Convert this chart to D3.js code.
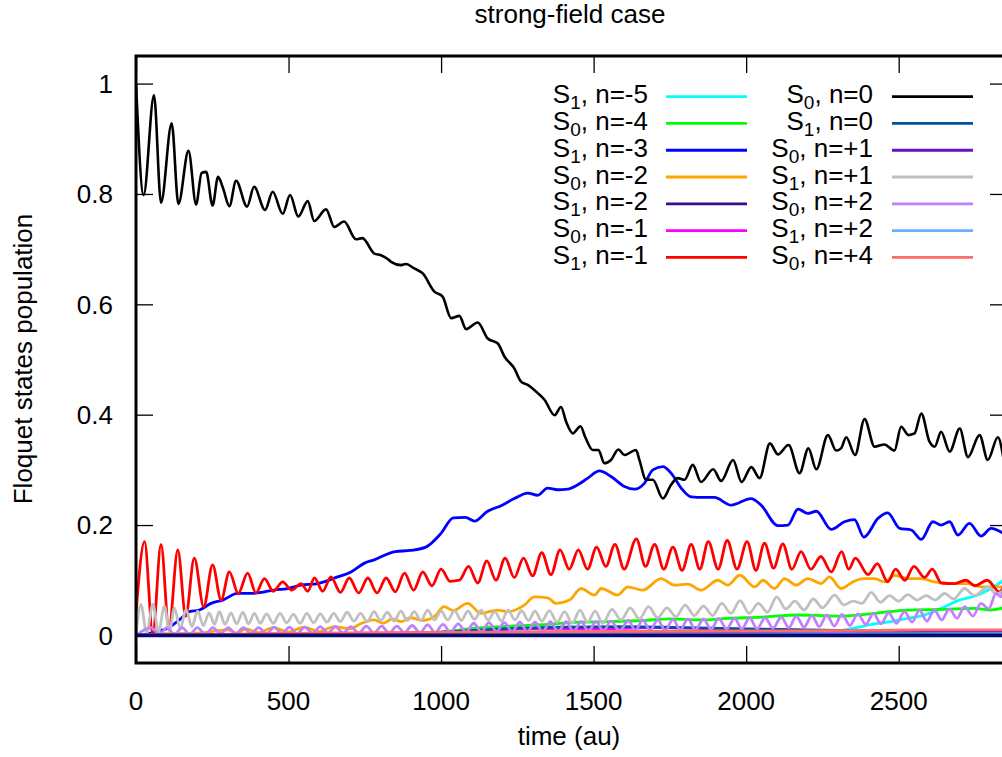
<!DOCTYPE html>
<html>
<head>
<meta charset="utf-8">
<script src="https://cdn.jsdelivr.net/npm/d3@7"></script>
<style>
  html, body { margin: 0; padding: 0; background: #ffffff; }
  svg { display: block; font-family: "Liberation Sans", Arial, Helvetica, sans-serif; }
</style>
</head>
<body>
<svg id="chart" width="1002" height="757"></svg>
<script>
// ---- axis ticks ----
const xTicks = [0, 500, 1000, 1500, 2000, 2500];
const yTicks = [0, 0.2, 0.4, 0.6, 0.8, 1];
const yTickLabels = ["0", "0.2", "0.4", "0.6", "0.8", "1"];

// ---- Floquet state populations, [time (au), population] ----
const s1_nm5 = [[0,0],[600,0.001],[1200,0.002],[1600,0.003],[2000,0.004],[2200,0.006],[2311,0.009],[2421,0.021],[2475,0.025],[2530,0.031],[2585,0.037],[2640,0.049],[2694,0.063],[2748,0.071],[2792,0.082],[2845,0.1]];

const s0_nm4 = [[0,0],[600,0.001],[760,0.003],[978,0.005],[1087,0.012],[1200,0.016],[1350,0.02],[1450,0.024],[1550,0.025],[1661,0.027],[1750,0.03],[1850,0.028],[1940,0.031],[2050,0.033],[2170,0.037],[2250,0.036],[2311,0.035],[2421,0.04],[2530,0.046],[2640,0.047],[2748,0.049],[2800,0.046],[2845,0.05]];

const s1_nm3 = [[0,0],[30,0.002],[66,0.007],[104,0.013],[148,0.031],[175,0.043],[208,0.046],[246,0.058],[284,0.064],[333,0.076],[377,0.076],[421,0.079],[453,0.082],[497,0.085],[541,0.091],[596,0.094],[661,0.106],[705,0.115],[749,0.131],[781,0.137],[850,0.152],[900,0.154],[950,0.16],[1000,0.185],[1040,0.213],[1080,0.214],[1110,0.207],[1150,0.224],[1200,0.236],[1240,0.248],[1284,0.258],[1317,0.254],[1349,0.267],[1382,0.264],[1415,0.265],[1448,0.273],[1481,0.285],[1519,0.298],[1557,0.288],[1601,0.27],[1634,0.265],[1667,0.276],[1694,0.3],[1727,0.306],[1754,0.294],[1787,0.267],[1820,0.251],[1863,0.25],[1896,0.25],[1951,0.236],[2016,0.248],[2049,0.236],[2104,0.199],[2137,0.2],[2170,0.229],[2202,0.221],[2230,0.225],[2279,0.192],[2322,0.206],[2355,0.21],[2386,0.178],[2432,0.212],[2464,0.222],[2503,0.194],[2541,0.191],[2574,0.174],[2612,0.206],[2639,0.2],[2667,0.206],[2694,0.182],[2732,0.203],[2770,0.18],[2803,0.194],[2845,0.184]];

const s0_nm2 = [[0,0],[100,0.003],[200,0.004],[300,0.01],[330,0.004],[360,0.012],[400,0.005],[450,0.014],[500,0.006],[550,0.015],[600,0.007],[650,0.016],[700,0.012],[740,0.022],[780,0.028],[810,0.022],[840,0.03],[870,0.025],[900,0.032],[940,0.027],[978,0.034],[1010,0.052],[1040,0.045],[1087,0.058],[1131,0.04],[1185,0.046],[1218,0.043],[1273,0.055],[1306,0.07],[1350,0.068],[1377,0.058],[1421,0.064],[1459,0.085],[1503,0.073],[1525,0.085],[1579,0.073],[1612,0.088],[1661,0.082],[1721,0.103],[1765,0.091],[1809,0.093],[1852,0.082],[1907,0.1],[1940,0.091],[1979,0.109],[2028,0.088],[2055,0.1],[2093,0.085],[2126,0.103],[2164,0.091],[2202,0.103],[2246,0.094],[2273,0.106],[2311,0.085],[2350,0.097],[2383,0.103],[2421,0.103],[2454,0.097],[2486,0.109],[2530,0.103],[2574,0.103],[2617,0.097],[2672,0.094],[2727,0.094],[2770,0.088],[2845,0.088]];

const s1_nm2 = [[0,0],[1400,0],[2845,0]];

const s0_nm1 = [[0,0],[500,0.002],[900,0.004],[1100,0.008],[1300,0.012],[1500,0.012],[1700,0.014],[1900,0.012],[2100,0.01],[2300,0.008],[2500,0.006],[2700,0.005],[2845,0.004]];

const s1_nm1 = [[0,0.04],[28,0.17],[55,0.003],[82,0.165],[108,0.012],[137,0.155],[163,0.035],[191,0.14],[222,0.052],[251,0.128],[279,0.064],[306,0.115],[335,0.076],[366,0.113],[393,0.077],[421,0.103],[450,0.08],[481,0.097],[510,0.082],[541,0.094],[563,0.08],[585,0.104],[612,0.08],[639,0.106],[670,0.078],[699,0.104],[730,0.077],[760,0.104],[790,0.077],[820,0.104],[850,0.079],[880,0.113],[910,0.082],[940,0.115],[970,0.09],[1000,0.12],[1030,0.098],[1060,0.1],[1090,0.125],[1120,0.095],[1150,0.135],[1180,0.1],[1210,0.14],[1240,0.105],[1270,0.14],[1300,0.108],[1330,0.15],[1360,0.11],[1390,0.155],[1420,0.12],[1450,0.155],[1480,0.12],[1510,0.16],[1540,0.125],[1570,0.165],[1600,0.12],[1640,0.175],[1670,0.125],[1700,0.165],[1730,0.12],[1760,0.16],[1790,0.118],[1820,0.165],[1848,0.12],[1876,0.17],[1908,0.12],[1938,0.172],[1970,0.12],[2003,0.17],[2032,0.118],[2060,0.167],[2090,0.122],[2120,0.166],[2150,0.12],[2180,0.152],[2212,0.12],[2245,0.143],[2279,0.115],[2313,0.152],[2336,0.12],[2358,0.14],[2400,0.11],[2430,0.13],[2464,0.097],[2490,0.12],[2520,0.1],[2550,0.125],[2585,0.105],[2610,0.12],[2640,0.095],[2683,0.094],[2720,0.1],[2750,0.09],[2790,0.1],[2830,0.079],[2845,0.09]];

const s0_n0 = [[0,1],[25,0.798],[59,0.979],[82,0.784],[117,0.928],[139,0.782],[172,0.878],[197,0.781],[215,0.838],[230,0.84],[251,0.779],[269,0.831],[285,0.811],[306,0.778],[328,0.824],[364,0.777],[387,0.813],[423,0.771],[448,0.804],[481,0.764],[505,0.798],[532,0.759],[563,0.787],[584,0.751],[623,0.772],[650,0.74],[682,0.75],[721,0.718],[742,0.72],[781,0.692],[803,0.689],[825,0.682],[836,0.677],[869,0.671],[885,0.673],[912,0.665],[940,0.656],[978,0.623],[1005,0.614],[1033,0.575],[1060,0.579],[1082,0.555],[1120,0.567],[1153,0.538],[1186,0.529],[1208,0.505],[1240,0.484],[1262,0.46],[1284,0.454],[1317,0.439],[1339,0.427],[1372,0.399],[1393,0.414],[1410,0.387],[1432,0.366],[1457,0.379],[1472,0.36],[1497,0.336],[1516,0.336],[1535,0.312],[1557,0.318],[1581,0.337],[1601,0.327],[1639,0.336],[1650,0.318],[1672,0.282],[1694,0.282],[1727,0.248],[1754,0.273],[1776,0.285],[1798,0.282],[1825,0.309],[1852,0.278],[1892,0.301],[1918,0.28],[1957,0.318],[1985,0.278],[2017,0.305],[2044,0.285],[2078,0.348],[2104,0.328],[2139,0.345],[2175,0.294],[2204,0.339],[2230,0.301],[2268,0.363],[2295,0.335],[2311,0.339],[2328,0.359],[2357,0.327],[2388,0.392],[2421,0.342],[2453,0.346],[2486,0.335],[2508,0.378],[2532,0.363],[2552,0.366],[2574,0.402],[2601,0.351],[2618,0.342],[2639,0.369],[2667,0.333],[2700,0.375],[2727,0.323],[2765,0.363],[2792,0.318],[2825,0.359],[2845,0.315]];

const s1_n0 = [[0,0],[800,0.002],[1000,0.006],[1200,0.012],[1400,0.015],[1600,0.016],[1800,0.014],[2000,0.012],[2200,0.01],[2400,0.008],[2600,0.006],[2845,0.004]];

const s0_np1 = [[0,0],[500,0.002],[1000,0.004],[1500,0.006],[2000,0.007],[2300,0.008],[2500,0.009],[2700,0.008],[2845,0.008]];

const s1_np1 = [[0,0],[16,0.056],[35,0.004],[55,0.056],[74,0.006],[93,0.053],[110,0.008],[126,0.05],[145,0.012],[164,0.047],[183,0.016],[202,0.044],[221,0.018],[240,0.041],[257,0.02],[273,0.043],[292,0.02],[311,0.041],[330,0.021],[350,0.042],[369,0.021],[388,0.04],[407,0.022],[428,0.039],[450,0.022],[472,0.04],[494,0.023],[516,0.038],[538,0.022],[560,0.04],[582,0.023],[604,0.039],[626,0.024],[648,0.04],[670,0.025],[692,0.042],[714,0.026],[736,0.04],[758,0.025],[780,0.043],[802,0.027],[824,0.042],[846,0.026],[868,0.044],[890,0.027],[912,0.043],[934,0.027],[956,0.046],[978,0.028],[1000,0.044],[1022,0.028],[1044,0.045],[1066,0.027],[1088,0.044],[1110,0.029],[1132,0.046],[1154,0.028],[1176,0.043],[1198,0.026],[1220,0.046],[1242,0.028],[1264,0.045],[1286,0.027],[1308,0.044],[1330,0.026],[1355,0.045],[1380,0.024],[1405,0.043],[1430,0.022],[1455,0.046],[1480,0.024],[1505,0.044],[1530,0.022],[1560,0.047],[1590,0.028],[1620,0.05],[1650,0.03],[1680,0.052],[1710,0.032],[1740,0.05],[1770,0.034],[1800,0.055],[1830,0.036],[1860,0.053],[1890,0.036],[1920,0.058],[1950,0.04],[1980,0.063],[2010,0.04],[2040,0.058],[2070,0.042],[2100,0.07],[2130,0.048],[2160,0.062],[2190,0.046],[2220,0.066],[2250,0.05],[2290,0.073],[2320,0.055],[2350,0.062],[2380,0.058],[2410,0.078],[2440,0.06],[2470,0.072],[2500,0.062],[2530,0.074],[2560,0.064],[2590,0.072],[2620,0.064],[2650,0.076],[2680,0.066],[2716,0.085],[2748,0.072],[2792,0.088],[2820,0.075],[2845,0.082]];

const s0_np2 = [[0,0],[50,0.014],[76,0.002],[101,0.014],[126,0.002],[151,0.014],[176,0.002],[201,0.014],[227,0.002],[252,0.014],[277,0.003],[302,0.014],[327,0.003],[352,0.014],[377,0.003],[402,0.014],[428,0.003],[453,0.015],[478,0.003],[503,0.015],[528,0.003],[553,0.015],[579,0.004],[604,0.016],[629,0.004],[654,0.016],[679,0.004],[704,0.016],[730,0.004],[755,0.017],[780,0.004],[805,0.017],[830,0.004],[855,0.017],[880,0.005],[905,0.018],[931,0.005],[956,0.019],[981,0.005],[1006,0.02],[1031,0.006],[1056,0.021],[1082,0.006],[1107,0.022],[1132,0.006],[1157,0.023],[1182,0.007],[1207,0.023],[1233,0.007],[1258,0.024],[1283,0.007],[1308,0.024],[1333,0.007],[1358,0.025],[1384,0.007],[1410,0.025],[1434,0.007],[1459,0.025],[1483,0.008],[1508,0.025],[1532,0.008],[1557,0.026],[1585,0.008],[1614,0.027],[1637,0.009],[1661,0.028],[1685,0.009],[1710,0.028],[1735,0.009],[1760,0.029],[1784,0.01],[1809,0.03],[1834,0.01],[1860,0.03],[1885,0.011],[1910,0.031],[1936,0.012],[1962,0.031],[1986,0.012],[2011,0.032],[2036,0.012],[2062,0.032],[2088,0.013],[2115,0.033],[2140,0.014],[2164,0.035],[2190,0.015],[2215,0.036],[2240,0.016],[2264,0.037],[2289,0.017],[2314,0.038],[2340,0.018],[2366,0.039],[2392,0.02],[2417,0.04],[2442,0.021],[2467,0.041],[2493,0.022],[2519,0.043],[2544,0.024],[2568,0.046],[2592,0.026],[2617,0.046],[2641,0.028],[2666,0.048],[2691,0.031],[2716,0.052],[2743,0.035],[2770,0.058],[2795,0.048],[2819,0.076],[2835,0.07],[2845,0.095]];

const s1_np2 = [[0,0.001],[1400,0.002],[2845,0.003]];

const s0_np4 = [[0,0],[400,0.003],[800,0.005],[1200,0.006],[1500,0.007],[2000,0.008],[2400,0.009],[2600,0.01],[2845,0.01]];

// ---- legend entries, in plotting order ----
const stateLabels = ["1","0","1","0","1","0","1","0","1","0","1","0","1","0"];
const nLabels = ["-5","-4","-3","-2","-2","-1","-1","0","0","+1","+1","+2","+2","+4"];
const lineColors = ["#00ffff","#00ff00","#0000ff","#ffa500","#3d0a8c","#ff00ff","#ff0000",
                    "#000000","#00529b","#6a0fc8","#c0c0c0","#c080ff","#66b0ff","#ff6a6a"];
const seriesData = [s1_nm5, s0_nm4, s1_nm3, s0_nm2, s1_nm2, s0_nm1, s1_nm1,
                    s0_n0, s1_n0, s0_np1, s1_np1, s0_np2, s1_np2, s0_np4];

// ---- layout ----
const W = 1002, H = 757;
const plot = { left: 136, right: 1007, top: 56, bottom: 663 };
const svg = d3.select("#chart");

const x = d3.scaleLinear().domain([0, 2855]).range([plot.left, plot.right]);
const y = d3.scaleLinear().domain([-0.05, 1.05]).range([plot.bottom, plot.top]);

svg.append("rect").attr("width", W).attr("height", H).attr("fill", "#ffffff");

// clip for the curves
svg.append("defs").append("clipPath").attr("id", "plot-clip")
  .append("rect")
  .attr("x", plot.left).attr("y", plot.top)
  .attr("width", plot.right - plot.left).attr("height", plot.bottom - plot.top);

// ---- ticks (mirrored on all four sides) ----
const tickLen = 17;
const axisG = svg.append("g").attr("class", "axes");
const bottomAxis = d3.axisBottom(x).tickValues(xTicks).tickSize(-tickLen).tickFormat("");
const topAxis = d3.axisTop(x).tickValues(xTicks).tickSize(-tickLen).tickFormat("");
const leftAxis = d3.axisLeft(y).tickValues(yTicks).tickSize(-tickLen).tickFormat("");
const rightAxis = d3.axisRight(y).tickValues(yTicks).tickSize(-tickLen).tickFormat("");

[[bottomAxis, `translate(0,${plot.bottom})`], [topAxis, `translate(0,${plot.top})`],
 [leftAxis, `translate(${plot.left},0)`], [rightAxis, `translate(${plot.right},0)`]]
  .forEach(([ax, tr]) => {
    const g = axisG.append("g").attr("transform", tr).call(ax);
    g.select(".domain").remove();
    g.selectAll(".tick line").attr("stroke", "#000").attr("stroke-width", 1.3);
  });

// tick labels
svg.append("g").selectAll("text").data(xTicks).join("text")
  .attr("x", d => x(d)).attr("y", 710)
  .attr("text-anchor", "middle").attr("font-size", 26).attr("fill", "#000")
  .text(d => d);

svg.append("g").selectAll("text").data(yTicks).join("text")
  .attr("x", 113).attr("y", d => y(d) + 9.3)
  .attr("text-anchor", "end").attr("font-size", 26).attr("fill", "#000")
  .text((d, i) => yTickLabels[i]);

// ---- curves ----
const line = d3.line()
  .x(d => x(d[0])).y(d => y(d[1]))
  .curve(d3.curveMonotoneX);

const curves = svg.append("g").attr("clip-path", "url(#plot-clip)");
seriesData.forEach((data, i) => {
  curves.append("path")
    .datum(data)
    .attr("d", line)
    .attr("fill", "none")
    .attr("stroke", lineColors[i])
    .attr("stroke-width", i === 7 ? 2.6 : 2.8)
    .attr("stroke-linejoin", "round");
});

// the populations that stay at zero pile up into one dark band along y = 0
curves.append("path")
  .datum(s1_nm2)
  .attr("d", line)
  .attr("fill", "none")
  .attr("stroke", "#0a0a6e")
  .attr("stroke-width", 3.6);

// ---- border ----
svg.append("rect")
  .attr("x", plot.left).attr("y", plot.top)
  .attr("width", plot.right - plot.left).attr("height", plot.bottom - plot.top)
  .attr("fill", "none").attr("stroke", "#000").attr("stroke-width", 3);

// ---- legend: two columns of seven ----
const legend = svg.append("g").attr("class", "legend");
const rowY0 = 96.7, rowStep = 26.77;
const cols = [
  { textRight: 648, lineX0: 666, lineX1: 747 },
  { textRight: 873, lineX0: 892, lineX1: 973 }
];
seriesData.forEach((data, i) => {
  const c = cols[Math.floor(i / 7)];
  const ry = rowY0 + (i % 7) * rowStep;
  const t = legend.append("text")
    .attr("x", c.textRight).attr("y", ry + 6.6)
    .attr("text-anchor", "end").attr("font-size", 26).attr("fill", "#000");
  t.append("tspan").text("S");
  t.append("tspan").attr("dy", 6).attr("font-size", 19).text(stateLabels[i]);
  t.append("tspan").attr("dy", -6).text(", n=" + nLabels[i]);
  legend.append("line")
    .attr("x1", c.lineX0).attr("x2", c.lineX1)
    .attr("y1", ry).attr("y2", ry)
    .attr("stroke", lineColors[i]).attr("stroke-width", 2.8);
});

// ---- title and axis labels ----
svg.append("text")
  .attr("x", 570).attr("y", 23)
  .attr("text-anchor", "middle").attr("font-size", 25)
  .attr("textLength", 191).attr("lengthAdjust", "spacingAndGlyphs")
  .text("strong-field case");

svg.append("text")
  .attr("x", 569).attr("y", 745)
  .attr("text-anchor", "middle").attr("font-size", 26)
  .text("time (au)");

svg.append("text")
  .attr("transform", "translate(32,359) rotate(-90)")
  .attr("text-anchor", "middle").attr("font-size", 26)
  .text("Floquet states population");
</script>
</body>
</html>
